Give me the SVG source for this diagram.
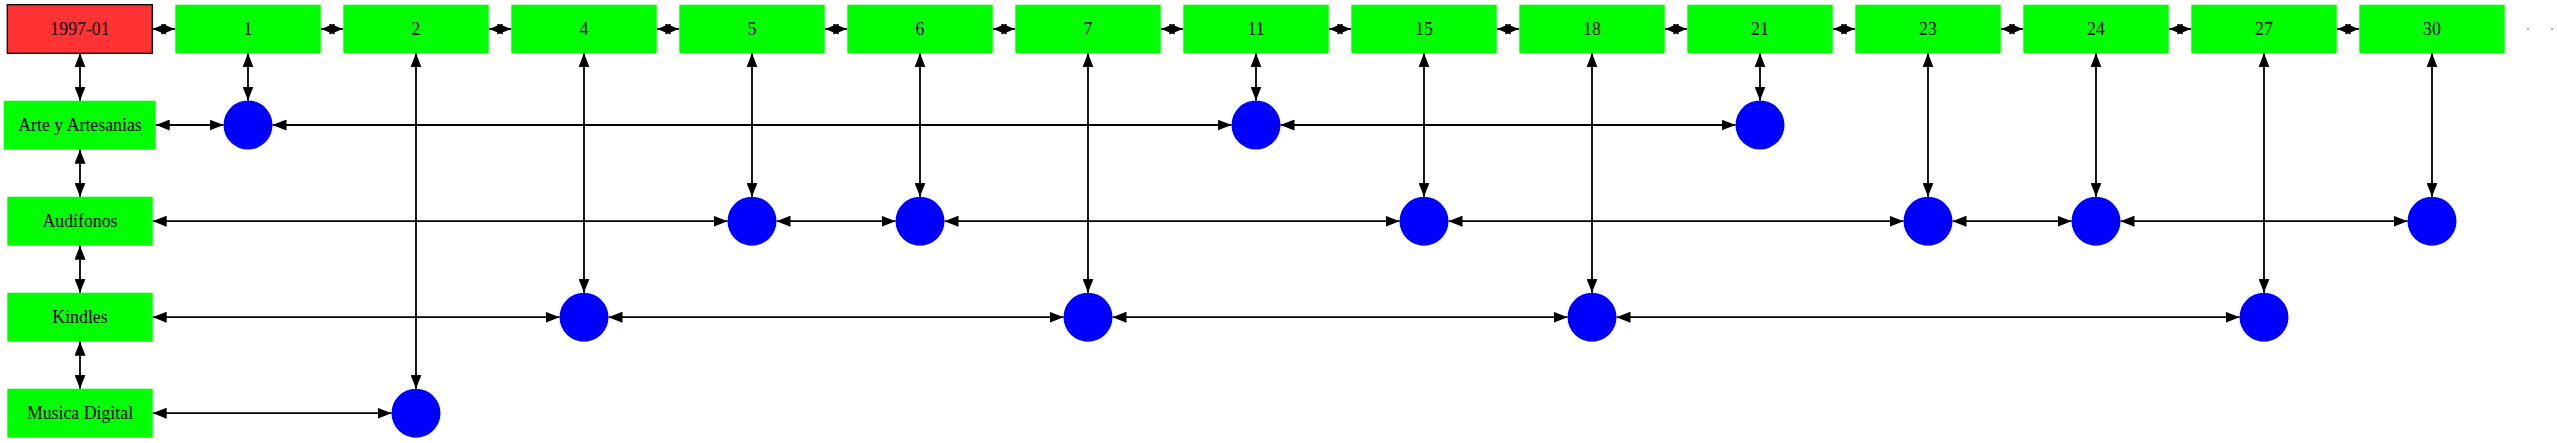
<svg xmlns="http://www.w3.org/2000/svg" width="2557" height="443" viewBox="0 0 2557 443">
<style>
.g{fill:#00ff00;stroke:none}
.r{fill:#ff3333;stroke:#000;stroke-width:1.3}
.c{fill:#0000ff;stroke:none}
.t{font-family:"Liberation Serif","Times New Roman",serif;font-size:17.8px;fill:#000;text-anchor:middle}
.e line{stroke:#000;stroke-width:1.8;marker-start:url(#a);marker-end:url(#a)}
</style>
<defs>
<marker id="a" markerUnits="userSpaceOnUse" markerWidth="14" markerHeight="11" viewBox="0 0 14 11" refX="14" refY="5.5" orient="auto-start-reverse">
<path d="M0,0 L14,5.5 L0,11 z" fill="#000"/>
</marker>
</defs>
<rect width="2557" height="443" fill="#fff"/>
<g class="e" id="connectors">
<!-- top row -->
<line x1="152.3" y1="29" x2="175.3" y2="29"/>
<line x1="320.7" y1="29" x2="343.3" y2="29"/>
<line x1="488.7" y1="29" x2="511.3" y2="29"/>
<line x1="656.7" y1="29" x2="679.3" y2="29"/>
<line x1="824.7" y1="29" x2="847.3" y2="29"/>
<line x1="992.7" y1="29" x2="1015.3" y2="29"/>
<line x1="1160.7" y1="29" x2="1183.3" y2="29"/>
<line x1="1328.7" y1="29" x2="1351.3" y2="29"/>
<line x1="1496.7" y1="29" x2="1519.3" y2="29"/>
<line x1="1664.7" y1="29" x2="1687.3" y2="29"/>
<line x1="1832.7" y1="29" x2="1855.3" y2="29"/>
<line x1="2000.7" y1="29" x2="2023.3" y2="29"/>
<line x1="2168.7" y1="29" x2="2191.3" y2="29"/>
<line x1="2336.7" y1="29" x2="2359.3" y2="29"/>
<!-- left column -->
<line x1="80" y1="53.3" x2="80" y2="100.7"/>
<line x1="80" y1="149.7" x2="80" y2="196.7"/>
<line x1="80" y1="245.7" x2="80" y2="292.7"/>
<line x1="80" y1="341.7" x2="80" y2="388.7"/>
<!-- column verticals -->
<line x1="248" y1="53.3" x2="248" y2="100.5"/>
<line x1="416" y1="53.3" x2="416" y2="388.7"/>
<line x1="584" y1="53.3" x2="584" y2="292.7"/>
<line x1="752" y1="53.3" x2="752" y2="196.7"/>
<line x1="920" y1="53.3" x2="920" y2="196.7"/>
<line x1="1088" y1="53.3" x2="1088" y2="292.7"/>
<line x1="1256" y1="53.3" x2="1256" y2="100.5"/>
<line x1="1424" y1="53.3" x2="1424" y2="196.7"/>
<line x1="1592" y1="53.3" x2="1592" y2="292.7"/>
<line x1="1760" y1="53.3" x2="1760" y2="100.5"/>
<line x1="1928" y1="53.3" x2="1928" y2="196.7"/>
<line x1="2096" y1="53.3" x2="2096" y2="196.7"/>
<line x1="2264" y1="53.3" x2="2264" y2="292.7"/>
<line x1="2432" y1="53.3" x2="2432" y2="196.7"/>
<!-- Arte row -->
<line x1="155.7" y1="125" x2="223.5" y2="125"/>
<line x1="272.5" y1="125" x2="1231.5" y2="125"/>
<line x1="1280.5" y1="125" x2="1735.5" y2="125"/>
<!-- Audifonos row -->
<line x1="152.7" y1="221.2" x2="727.5" y2="221.2"/>
<line x1="776.5" y1="221.2" x2="895.5" y2="221.2"/>
<line x1="944.5" y1="221.2" x2="1399.5" y2="221.2"/>
<line x1="1448.5" y1="221.2" x2="1903.5" y2="221.2"/>
<line x1="1952.5" y1="221.2" x2="2071.5" y2="221.2"/>
<line x1="2120.5" y1="221.2" x2="2407.5" y2="221.2"/>
<!-- Kindles row -->
<line x1="152.7" y1="317.2" x2="559.5" y2="317.2"/>
<line x1="608.5" y1="317.2" x2="1063.5" y2="317.2"/>
<line x1="1112.5" y1="317.2" x2="1567.5" y2="317.2"/>
<line x1="1616.5" y1="317.2" x2="2239.5" y2="317.2"/>
<!-- Musica row -->
<line x1="152.7" y1="413.2" x2="391.5" y2="413.2"/>
</g>
<g id="n1997-01"><rect class="r" x="7.3" y="4.7" width="145" height="48.6"/><text class="t" x="80" y="35">1997-01</text></g>
<g id="t1"><rect class="g" x="175.3" y="4.7" width="145.4" height="48.6"/><text class="t" x="248" y="35">1</text></g>
<g id="t2"><rect class="g" x="343.3" y="4.7" width="145.4" height="48.6"/><text class="t" x="416" y="35">2</text></g>
<g id="t4"><rect class="g" x="511.3" y="4.7" width="145.4" height="48.6"/><text class="t" x="584" y="35">4</text></g>
<g id="t5"><rect class="g" x="679.3" y="4.7" width="145.4" height="48.6"/><text class="t" x="752" y="35">5</text></g>
<g id="t6"><rect class="g" x="847.3" y="4.7" width="145.4" height="48.6"/><text class="t" x="920" y="35">6</text></g>
<g id="t7"><rect class="g" x="1015.3" y="4.7" width="145.4" height="48.6"/><text class="t" x="1088" y="35">7</text></g>
<g id="t11"><rect class="g" x="1183.3" y="4.7" width="145.4" height="48.6"/><text class="t" x="1256" y="35">11</text></g>
<g id="t15"><rect class="g" x="1351.3" y="4.7" width="145.4" height="48.6"/><text class="t" x="1424" y="35">15</text></g>
<g id="t18"><rect class="g" x="1519.3" y="4.7" width="145.4" height="48.6"/><text class="t" x="1592" y="35">18</text></g>
<g id="t21"><rect class="g" x="1687.3" y="4.7" width="145.4" height="48.6"/><text class="t" x="1760" y="35">21</text></g>
<g id="t23"><rect class="g" x="1855.3" y="4.7" width="145.4" height="48.6"/><text class="t" x="1928" y="35">23</text></g>
<g id="t24"><rect class="g" x="2023.3" y="4.7" width="145.4" height="48.6"/><text class="t" x="2096" y="35">24</text></g>
<g id="t27"><rect class="g" x="2191.3" y="4.7" width="145.4" height="48.6"/><text class="t" x="2264" y="35">27</text></g>
<g id="t30"><rect class="g" x="2359.3" y="4.7" width="145.4" height="48.6"/><text class="t" x="2432" y="35">30</text></g>
<g id="more"><rect x="2527" y="28.3" width="2" height="1.5" fill="#888"/><rect x="2551" y="28.3" width="2" height="1.5" fill="#888"/></g>
<g id="arte"><rect class="g" x="4" y="100.7" width="151.7" height="49"/><text class="t" x="80" y="131">Arte y Artesanias</text></g>
<g id="audifonos"><rect class="g" x="7.3" y="196.7" width="145.4" height="49"/><text class="t" x="80" y="227">Audífonos</text></g>
<g id="kindles"><rect class="g" x="7.3" y="292.7" width="145.4" height="49"/><text class="t" x="80" y="323">Kindles</text></g>
<g id="musica"><rect class="g" x="7.3" y="388.7" width="145.4" height="49"/><text class="t" x="80" y="419">Musica Digital</text></g>
<g id="c-arte-1"><circle class="c" cx="248" cy="125" r="24.5"/></g>
<g id="c-arte-11"><circle class="c" cx="1256" cy="125" r="24.5"/></g>
<g id="c-arte-21"><circle class="c" cx="1760" cy="125" r="24.5"/></g>
<g id="c-aud-5"><circle class="c" cx="752" cy="221.2" r="24.5"/></g>
<g id="c-aud-6"><circle class="c" cx="920" cy="221.2" r="24.5"/></g>
<g id="c-aud-15"><circle class="c" cx="1424" cy="221.2" r="24.5"/></g>
<g id="c-aud-23"><circle class="c" cx="1928" cy="221.2" r="24.5"/></g>
<g id="c-aud-24"><circle class="c" cx="2096" cy="221.2" r="24.5"/></g>
<g id="c-aud-30"><circle class="c" cx="2432" cy="221.2" r="24.5"/></g>
<g id="c-kin-4"><circle class="c" cx="584" cy="317.2" r="24.5"/></g>
<g id="c-kin-7"><circle class="c" cx="1088" cy="317.2" r="24.5"/></g>
<g id="c-kin-18"><circle class="c" cx="1592" cy="317.2" r="24.5"/></g>
<g id="c-kin-27"><circle class="c" cx="2264" cy="317.2" r="24.5"/></g>
<g id="c-mus-2"><circle class="c" cx="416" cy="413.2" r="24.5"/></g>
</svg>
